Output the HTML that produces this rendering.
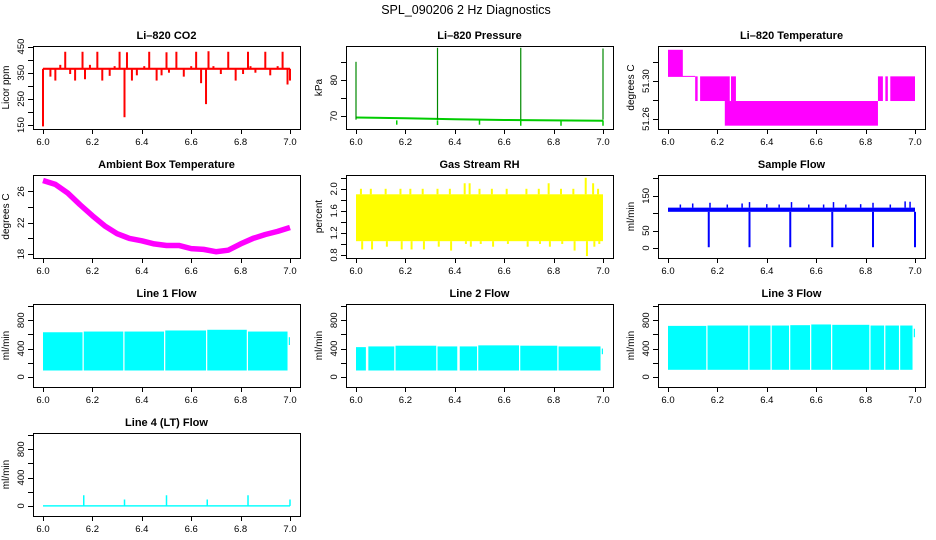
<!DOCTYPE html>
<html><head><meta charset="utf-8"><style>
html,body{margin:0;padding:0;background:#fff;}
svg{display:block;font-family:"Liberation Sans",sans-serif;}
</style></head><body>
<svg id="fig" width="936" height="540" viewBox="0 0 936 540">
<text x="466" y="14" text-anchor="middle" font-size="12.5">SPL_090206  2 Hz Diagnostics</text>
</svg>
<script>
// ---- data ----
const xTicks=[6.0,6.2,6.4,6.6,6.8,7.0];
const xTickLabels=["6.0","6.2","6.4","6.6","6.8","7.0"];
// CO2
const co2Base=365;
const co2SpikeX=[6.0,6.03,6.05,6.07,6.09,6.11,6.13,6.16,6.17,6.19,6.22,6.24,6.27,6.29,6.31,6.33,6.34,6.36,6.38,6.41,6.43,6.46,6.48,6.5,6.51,6.54,6.57,6.6,6.62,6.64,6.66,6.67,6.69,6.72,6.75,6.78,6.81,6.83,6.84,6.86,6.9,6.92,6.95,6.97,6.99,7.0];
const co2SpikeV=[145,335,320,380,430,345,320,430,325,380,430,320,338,375,430,180,428,320,340,375,430,320,340,428,350,430,335,375,430,310,230,432,375,345,430,320,345,430,375,350,430,340,375,430,305,320];
// Pressure
const presBaseX=[6.0,6.2,6.4,6.6,6.8,7.0];
const presBaseV=[69.6,69.4,69.1,68.9,68.8,68.7];
const presSpikeX=[6.0,6.33,6.667,7.0];
const presSpikeV=[85.1,89.0,89.0,88.8];
const presDipX=[6.165,6.33,6.5,6.667,6.83,7.0];
const presDipV=[67.6,67.5,67.6,67.3,67.3,67.3];
// Li-820 temperature blocks
const tempX0=[6.0,6.0,6.11,6.13,6.23,6.255,6.85,6.88,6.9];
const tempX1=[6.06,6.11,6.12,6.25,6.85,6.275,6.87,6.89,7.0];
const tempLo=[51.305,51.3045,51.279,51.279,51.253,51.279,51.279,51.279,51.279];
const tempHi=[51.333,51.3055,51.305,51.305,51.279,51.305,51.305,51.305,51.305];
// Ambient temp
const ambX=[6.0,6.05,6.1,6.15,6.2,6.25,6.3,6.35,6.4,6.45,6.5,6.55,6.6,6.65,6.7,6.75,6.8,6.85,6.9,6.95,7.0];
const ambV=[27.4,26.9,25.8,24.3,22.9,21.6,20.6,20.0,19.7,19.3,19.1,19.1,18.7,18.6,18.3,18.5,19.3,20.0,20.5,20.9,21.4];
// RH
const rhLo=1.05, rhHi=1.9;
const rhSpikeX=[6.02,6.06,6.12,6.18,6.22,6.27,6.33,6.38,6.44,6.46,6.5,6.55,6.61,6.69,6.74,6.78,6.83,6.88,6.93,6.96,6.98];
const rhSpikeHi=[2.0,2.0,2.0,2.0,2.0,2.0,2.0,2.0,2.1,2.1,2.0,2.0,2.0,2.0,2.0,2.1,2.0,2.0,2.2,2.1,2.0];
const rhSpikeLo=[0.9,0.9,0.95,0.9,0.9,0.9,0.95,0.88,1.0,0.95,1.0,0.95,1.0,0.95,1.0,0.95,1.0,0.88,0.78,0.95,1.0];
// Sample flow
const sfBaseLo=104, sfBaseHi=116;
const sfDropX=[6.165,6.33,6.495,6.665,6.83,7.0];
const sfSpikeX=[6.05,6.1,6.17,6.24,6.3,6.33,6.4,6.45,6.5,6.57,6.63,6.67,6.72,6.78,6.83,6.9,6.96,6.98];
const sfSpikeV=[125,128,130,125,128,132,126,125,132,125,125,132,125,126,130,125,134,133];
// Line flows
const l1Start=[6.0,6.165,6.33,6.495,6.665,6.83];
const l1End=[6.16,6.325,6.49,6.66,6.825,6.99];
const l1Top=[630,640,640,655,665,640];
const l1Bot=[90,90,90,90,90,90];
const l2Start=[6.0,6.05,6.16,6.33,6.42,6.495,6.665,6.82];
const l2End=[6.04,6.155,6.325,6.41,6.49,6.66,6.815,6.99];
const l2Top=[420,430,440,430,430,445,440,430];
const l2Bot=[90,90,90,90,90,90,90,90];
const l3Start=[6.0,6.16,6.33,6.42,6.495,6.58,6.665,6.82,6.88,6.94];
const l3End=[6.155,6.325,6.415,6.49,6.575,6.66,6.815,6.875,6.935,6.99];
const l3Top=[720,725,725,725,730,740,735,725,725,725];
const l3Bot=[100,100,100,100,100,100,100,100,100,100];
const l4SpikeX=[6.165,6.33,6.5,6.665,6.83,7.0];
const l4SpikeV=[150,90,150,90,150,90];

// ---- helpers ----
const NS="http://www.w3.org/2000/svg";
const svg=document.getElementById('fig');
function el(tag,attrs,parent){const e=document.createElementNS(NS,tag);for(const k in attrs)e.setAttribute(k,attrs[k]);(parent||svg).appendChild(e);return e;}
const colL=[33,346,658], rowT=[46,175,304,433], PW=267, PH=83;
function panel(col,row,name,title,ylab,ymin,ymax,yticks,ylabVals,ylabText){
  const L=colL[col],T=rowT[row];
  const g=el('g',{});
  
  
  const x=v=>L+10+(v-6.0)*247;
  const y=v=>T+PH-(v-ymin)/(ymax-ymin)*PH;
  const t=el('text',{x:L+PW/2,y:T-7,'text-anchor':'middle','font-size':'11','font-weight':'bold'},g);
  t.textContent=title;
  
  
  const yl=el('text',{x:0,y:0,'text-anchor':'middle','font-size':'10',transform:`translate(${L-24},${T+PH/2}) rotate(-90)`},g);
  yl.textContent=ylab;
  
  
  const plot=el('g',{},g);
  
  
  const xa=el('g',{stroke:'#000','stroke-width':1},g);
  
  
  el('line',{x1:x(6.0),x2:x(7.0),y1:T+PH+0.5,y2:T+PH+0.5},xa);
  xTicks.forEach((v,i)=>{
    el('line',{x1:Math.round(x(v))+0.5,x2:Math.round(x(v))+0.5,y1:T+PH,y2:T+PH+5},xa);
    const tl=el('text',{x:x(v),y:T+PH+16,'text-anchor':'middle','font-size':'9.5',stroke:'none'},xa);
    tl.textContent=xTickLabels[i];
    
    
  });
  const ya=el('g',{stroke:'#000','stroke-width':1},g);
  
  
  yticks.forEach(v=>{
    const yy=Math.round(y(v))+0.5;
    el('line',{x1:L-5,x2:L,y1:yy,y2:yy},ya);
    const i=ylabVals.indexOf(v);
    if(i>=0){
      const tl=el('text',{x:0,y:0,'text-anchor':'middle','font-size':'9.5',stroke:'none',transform:`translate(${L-9},${y(v)}) rotate(-90)`},ya);
      tl.textContent=ylabText[i];
      
      
    }
  });
  el('rect',{x:L+0.5,y:T+0.5,width:PW,height:PH,fill:'none',stroke:'#000','stroke-width':1},g);
  return {x,y,g:plot};
}
function vline(p,xv,y0,y1,c,w){el('line',{x1:p.x(xv),x2:p.x(xv),y1:p.y(y0),y2:p.y(y1),stroke:c,'stroke-width':w||1.5},p.g);}
function band(p,x0,x1,lo,hi,c){el('rect',{x:p.x(x0),y:p.y(hi),width:Math.max(1,p.x(x1)-p.x(x0)),height:Math.max(1,p.y(lo)-p.y(hi)),fill:c},p.g);}

// CO2
let p=panel(0,0,'co2','Li\u2013820 CO2','Licor ppm',135,452,[150,200,250,300,350,400,450],[150,250,350,450],["150","250","350","450"]);
band(p,6.0,7.0,co2Base-4,co2Base+4,'#f00');
co2SpikeX.forEach((v,i)=>vline(p,v,co2Base,co2SpikeV[i],'#f00',2));

// Pressure
p=panel(1,0,'pressure','Li\u2013820 Pressure','kPa',66.4,89.5,[70,75,80,85],[70,80],["70","80"]);
el('polyline',{points:presBaseX.map((v,i)=>p.x(v)+','+p.y(presBaseV[i])).join(' '),fill:'none',stroke:'#0c0','stroke-width':2},p.g);
presDipX.forEach((v,i)=>vline(p,v,68.8,presDipV[i],'#0c0',1.5));
presSpikeX.forEach((v,i)=>vline(p,v,69,presSpikeV[i],'#080',1.2));

// Li-820 Temp
p=panel(2,0,'li820-temperature','Li\u2013820 Temperature','degrees C',51.2495,51.337,[51.26,51.28,51.30,51.32],[51.26,51.30],["51.26","51.30"]);
tempX0.forEach((v,i)=>band(p,v,tempX1[i],tempLo[i],tempHi[i],'#f0f'));

// Ambient
p=panel(0,1,'ambient-temperature','Ambient Box Temperature','degrees C',17.5,28.1,[18,20,22,24,26],[18,22,26],["18","22","26"]);
el('polyline',{points:ambX.map((v,i)=>p.x(v)+','+p.y(ambV[i])).join(' '),fill:'none',stroke:'#f0f','stroke-width':5.5,'stroke-linejoin':'round'},p.g);

// RH
p=panel(1,1,'gas-stream-rh','Gas Stream RH','percent',0.745,2.25,[0.8,1.0,1.2,1.4,1.6,1.8,2.0,2.2],[0.8,1.2,1.6,2.0],["0.8","1.2","1.6","2.0"]);
band(p,6.0,7.0,rhLo,rhHi,'#ff0');
rhSpikeX.forEach((v,i)=>{vline(p,v,rhHi,rhSpikeHi[i],'#ff0',2);vline(p,v+0.005,rhLo,rhSpikeLo[i],'#ff0',2);});

// Sample flow
p=panel(2,1,'sample-flow','Sample Flow','ml/min',-29,210,[0,50,100,150,200],[0,50,150],["0","50","150"]);
band(p,6.0,7.0,sfBaseLo,sfBaseHi,'#00f');
sfSpikeX.forEach((v,i)=>vline(p,v,sfBaseHi,sfSpikeV[i],'#00f',1.5));
sfDropX.forEach(v=>vline(p,v,sfBaseLo,2,'#00f',2));

// Line flows
const fT=[0,200,400,600,800,1000], fL=[0,400,800], fLT=["0","400","800"];
p=panel(0,2,'line1-flow','Line 1 Flow','ml/min',-143,1029,fT,fL,fLT);
l1Start.forEach((v,i)=>band(p,v,l1End[i],l1Bot[i],l1Top[i],'#0ff'));
band(p,6.995,7.0,450,560,'#0ff');
p=panel(1,2,'line2-flow','Line 2 Flow','ml/min',-143,1029,fT,fL,fLT);
l2Start.forEach((v,i)=>band(p,v,l2End[i],l2Bot[i],l2Top[i],'#0ff'));
band(p,6.995,7.0,320,400,'#0ff');
p=panel(2,2,'line3-flow','Line 3 Flow','ml/min',-143,1029,fT,fL,fLT);
l3Start.forEach((v,i)=>band(p,v,l3End[i],l3Bot[i],l3Top[i],'#0ff'));
band(p,6.995,7.0,560,680,'#0ff');
p=panel(0,3,'line4-flow','Line 4 (LT) Flow','ml/min',-143,1029,fT,fL,fLT);
band(p,6.0,7.0,-10,10,'#0ff');
l4SpikeX.forEach((v,i)=>vline(p,v,0,l4SpikeV[i],'#0ff',1.5));
</script>
</body></html>
